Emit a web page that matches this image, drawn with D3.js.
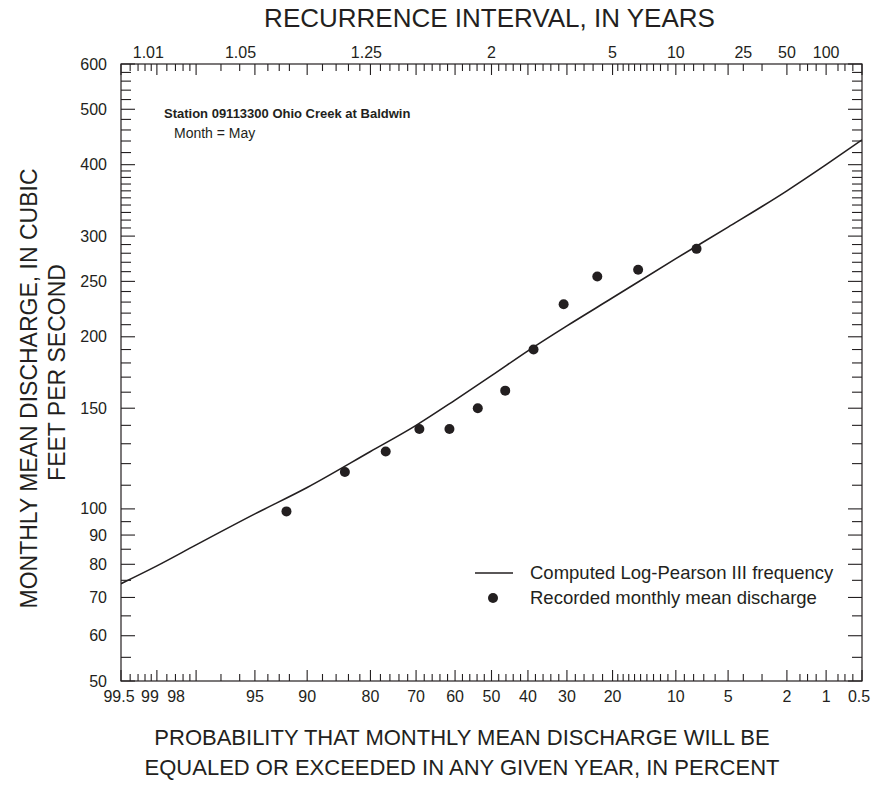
<!DOCTYPE html>
<html>
<head>
<meta charset="utf-8">
<script src="https://cdn.jsdelivr.net/npm/d3@7"></script>
<style>
  body { margin: 0; background: #fff; }
  svg text { font-family: "Liberation Sans", Arial, Helvetica, sans-serif; fill: #231f20; }
  .frame { fill: none; stroke: #231f20; stroke-width: 1.2; }
  .tick line { stroke: #231f20; stroke-width: 1.1; }
</style>
</head>
<body>
<div id="chart"></div>
<script>
// exceedance probability (percent) of each recorded May mean, and its discharge (cfs)
const recordedProb = [92.3, 84.6, 76.9, 69.2, 61.5, 53.8, 46.2, 38.5, 30.8, 23.1, 15.4, 7.7];
const recordedQ = [99, 116, 126, 138, 138, 150, 161, 190, 228, 255, 262, 285];

// computed Log-Pearson III frequency curve, read at standard probabilities
const curveProb = [99.5, 99, 98, 95, 90, 80, 70, 60, 50, 40, 30, 20, 10, 5, 2, 1, 0.5];
const curveQ = [74, 79.5, 86.5, 98, 109, 126, 140, 155, 171, 189, 209, 234, 274, 311, 360, 400, 442];

// bottom (probability) axis
const probLabels = [99.5, 99, 98, 95, 90, 80, 70, 60, 50, 40, 30, 20, 10, 5, 2, 1, 0.5];
const probMinor = [99.4, 99.3, 99.2, 99.1, 98.8, 98.6, 98.4, 98.2, 97, 96, 94, 93, 92,
  88, 86, 84, 82, 78, 76, 74, 72, 68, 66, 64, 62, 58, 56, 54, 52, 48, 46, 44, 42,
  38, 36, 34, 32, 28, 26, 24, 22, 19, 18, 17, 16, 15, 14, 13, 12, 11,
  9, 8, 7, 6, 4, 3, 1.6, 1.4, 1.2, 0.8, 0.7, 0.6];

// top (recurrence interval) axis
const recurrenceLabels = ['1.01', '1.05', '1.25', '2', '5', '10', '25', '50', '100'];

// discharge axis
const qLabels = [50, 60, 70, 80, 90, 100, 150, 200, 250, 300, 400, 500, 600];
const qMinor = [55, 65, 75, 85, 95, 110, 120, 130, 140, 160, 170, 180, 190,
  210, 220, 230, 240, 260, 270, 280, 290, 310, 320, 330, 340, 350, 360, 370, 380, 390,
  420, 440, 460, 480, 520, 540, 560, 580];

const width = 880, height = 785;
const margin = {top: 64, right: 18, bottom: 104, left: 121};
const plotW = width - margin.left - margin.right;
const plotH = height - margin.top - margin.bottom;

// the printed figure sets a few crowded labels off their tick
const nudge = {'99.5': -2, '99': -7, '98': -20, '0.5': -3, '1.01': -8, '1.05': -11, '1.25': -4};

// inverse standard normal (Acklam)
function qnorm(p) {
    const a = [-39.69683028665376, 220.9460984245205, -275.9285104469687, 138.3577518672690, -30.66479806614716, 2.506628277459239];
    const b = [-54.47609879822406, 161.5858368580409, -155.6989798598866, 66.80131188771972, -13.28068155288572];
    const c = [-0.007784894002430293, -0.3223964580411365, -2.400758277161838, -2.549732539343734, 4.374664141464968, 2.938163982698783];
    const d = [0.007784695709041462, 0.3224671290700398, 2.445134137142996, 3.754408661907416];
    const pl = 0.02425;
    let q, r;
    if (p < pl) {
        q = Math.sqrt(-2 * Math.log(p));
        return (((((c[0] * q + c[1]) * q + c[2]) * q + c[3]) * q + c[4]) * q + c[5]) /
            ((((d[0] * q + d[1]) * q + d[2]) * q + d[3]) * q + 1);
    }
    if (p > 1 - pl) {
        q = Math.sqrt(-2 * Math.log(1 - p));
        return -(((((c[0] * q + c[1]) * q + c[2]) * q + c[3]) * q + c[4]) * q + c[5]) /
            ((((d[0] * q + d[1]) * q + d[2]) * q + d[3]) * q + 1);
    }
    q = p - 0.5;
    r = q * q;
    return (((((a[0] * r + a[1]) * r + a[2]) * r + a[3]) * r + a[4]) * r + a[5]) * q /
        (((((b[0] * r + b[1]) * r + b[2]) * r + b[3]) * r + b[4]) * r + 1);
}

// exceedance percent -> standard normal variate
const zOf = p => qnorm(1 - p / 100);

const z = d3.scaleLinear().domain([zOf(99.5), zOf(0.5)]).range([0, plotW]);
const x = p => z(zOf(p));
const y = d3.scaleLog().domain([50, 600]).range([plotH, 0]);

let svg = d3.select('#chart').append('svg')
    .attr('width', width)
    .attr('height', height);

let g = svg.append('g')
    .attr('transform', 'translate(' + margin.left + ',' + margin.top + ')');

// ticks: majors longer than minors, all pointing inward
function hTicks(values, long, yPos, dir) {
    g.append('g').attr('class', 'tick')
        .selectAll('line')
        .data(values)
        .enter().append('line')
        .attr('x1', d => x(d)).attr('x2', d => x(d))
        .attr('y1', yPos).attr('y2', yPos + dir * long);
}
function vTicks(values, long, xPos, dir) {
    g.append('g').attr('class', 'tick')
        .selectAll('line')
        .data(values)
        .enter().append('line')
        .attr('y1', d => y(d)).attr('y2', d => y(d))
        .attr('x1', xPos).attr('x2', xPos + dir * long);
}

hTicks(probLabels, 11, plotH, -1);
hTicks(probMinor, 7, plotH, -1);
hTicks(probLabels, 11, 0, 1);
hTicks(probMinor, 7, 0, 1);
vTicks(qLabels, 14, 0, 1);
vTicks(qMinor, 10, 0, 1);
vTicks(qLabels, 14, plotW, -1);
vTicks(qMinor, 10, plotW, -1);

g.append('rect').attr('class', 'frame')
    .attr('width', plotW).attr('height', plotH);

// tick labels
g.append('g').selectAll('text')
    .data(probLabels)
    .enter().append('text')
    .attr('x', d => x(d) + (nudge[d] || 0))
    .attr('y', plotH + 21)
    .attr('text-anchor', 'middle')
    .style('font-size', '16px')
    .text(d => d);

g.append('g').selectAll('text')
    .data(recurrenceLabels)
    .enter().append('text')
    .attr('x', d => x(100 / +d) + (nudge[d] || 0))
    .attr('y', -6)
    .attr('text-anchor', 'middle')
    .style('font-size', '16px')
    .text(d => d);

g.append('g').selectAll('text')
    .data(qLabels)
    .enter().append('text')
    .attr('x', -14)
    .attr('y', d => y(d))
    .attr('dy', '.35em')
    .attr('text-anchor', 'end')
    .style('font-size', '16px')
    .text(d => d);

// curve and points
let clip = svg.append('clipPath').attr('id', 'plot-clip')
    .append('rect').attr('width', plotW).attr('height', plotH);

let line = d3.line()
    .x(d => x(d[0]))
    .y(d => y(d[1]))
    .curve(d3.curveMonotoneX);

g.append('path')
    .datum(curveProb.map((p, i) => [p, curveQ[i]]))
    .attr('clip-path', 'url(#plot-clip)')
    .attr('d', line)
    .attr('fill', 'none')
    .attr('stroke', '#231f20')
    .attr('stroke-width', 1.6);

g.append('g').selectAll('circle')
    .data(recordedProb)
    .enter().append('circle')
    .attr('cx', d => x(d))
    .attr('cy', (d, i) => y(recordedQ[i]))
    .attr('r', 5)
    .attr('fill', '#231f20');

// station note
g.append('text')
    .attr('x', 43).attr('y', 54)
    .style('font-size', '13px')
    .style('font-weight', 'bold')
    .text('Station 09113300 Ohio Creek at Baldwin');
g.append('text')
    .attr('x', 53).attr('y', 74)
    .style('font-size', '14px')
    .text('Month = May');

// legend
let legend = g.append('g').attr('transform', 'translate(354,509)');
legend.append('line')
    .attr('x1', 0).attr('x2', 38)
    .attr('y1', 0).attr('y2', 0)
    .attr('stroke', '#231f20').attr('stroke-width', 1.6);
legend.append('text')
    .attr('x', 55).attr('y', 0).attr('dy', '.35em')
    .style('font-size', '18.5px')
    .text('Computed Log-Pearson III frequency');
legend.append('circle')
    .attr('cx', 18).attr('cy', 25).attr('r', 5)
    .attr('fill', '#231f20');
legend.append('text')
    .attr('x', 55).attr('y', 25).attr('dy', '.35em')
    .style('font-size', '18.5px')
    .text('Recorded monthly mean discharge');

// axis titles
svg.append('text')
    .attr('x', margin.left + plotW / 2 - 2).attr('y', 27)
    .attr('text-anchor', 'middle')
    .style('font-size', '26px')
    .text('RECURRENCE INTERVAL, IN YEARS');

svg.append('text')
    .attr('transform', 'translate(37,' + (margin.top + plotH / 2 + 16) + ') rotate(-90)')
    .attr('text-anchor', 'middle')
    .style('font-size', '23px')
    .text('MONTHLY MEAN DISCHARGE, IN CUBIC');
svg.append('text')
    .attr('transform', 'translate(65,' + (margin.top + plotH / 2) + ') rotate(-90)')
    .attr('text-anchor', 'middle')
    .style('font-size', '23px')
    .text('FEET PER SECOND');

svg.append('text')
    .attr('x', 462).attr('y', 745)
    .attr('text-anchor', 'middle')
    .style('font-size', '22px')
    .text('PROBABILITY THAT MONTHLY MEAN DISCHARGE WILL BE');
svg.append('text')
    .attr('x', 462).attr('y', 775)
    .attr('text-anchor', 'middle')
    .style('font-size', '22px')
    .text('EQUALED OR EXCEEDED IN ANY GIVEN YEAR, IN PERCENT');
</script>
</body>
</html>
